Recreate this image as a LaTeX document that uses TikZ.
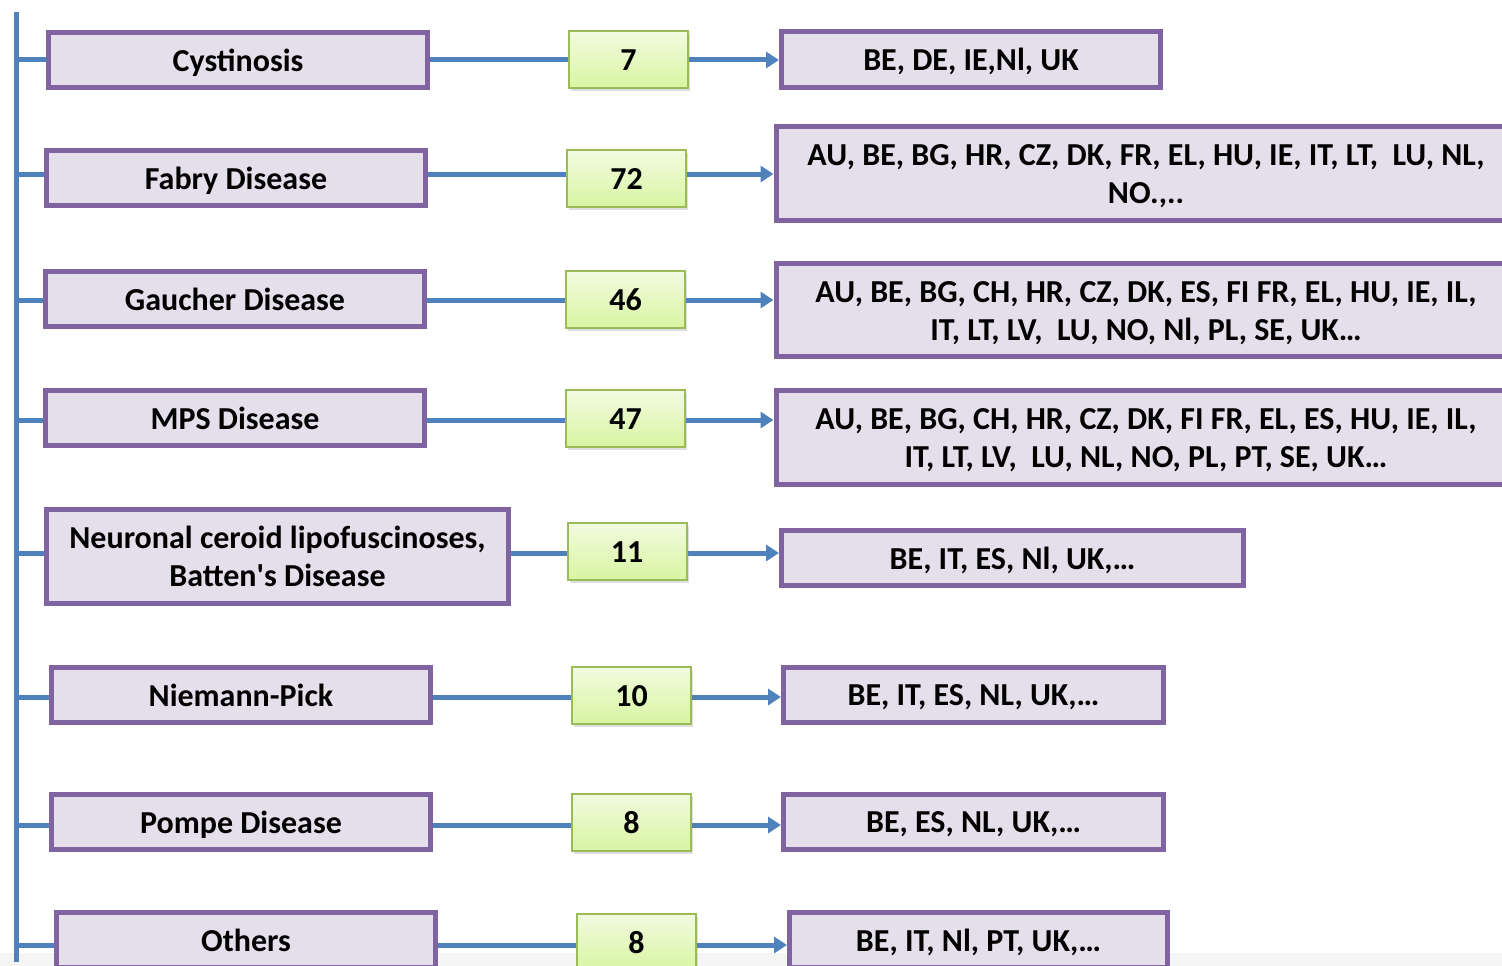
\documentclass[tikz,border=0pt]{standalone}
\usepackage{fontspec}
\setmainfont{Carlito}
\usetikzlibrary{arrows.meta,shadows}
\definecolor{spineblue}{HTML}{4F81BD}
\definecolor{boxline}{HTML}{8064A2}
\definecolor{boxfill}{HTML}{E5DFEC}
\definecolor{numline}{HTML}{9BBB59}
\definecolor{numtop}{HTML}{F2FBE0}
\definecolor{numbot}{HTML}{D8F5A2}
\tikzset{
  disease/.style={draw=boxline, fill=boxfill, line width=5pt, rectangle,
    minimum width=379pt, minimum height=55pt, align=center, inner sep=0pt,
    font=\fontsize{32}{38}\selectfont\bfseries, text height=26pt, text depth=4pt},
  tworow/.style={minimum height=94pt, text height=64pt, text depth=4pt},
  countbox/.style={draw=numline, line width=2pt, top color=numtop, bottom color=numbot,
    minimum width=119pt, minimum height=57pt, inner sep=0pt,
    font=\fontsize{32}{38}\selectfont\bfseries, text height=26pt, text depth=4pt,
    drop shadow={opacity=0.25, shadow xshift=2pt, shadow yshift=-3pt}},
  conn/.style={draw=spineblue, line width=5pt},
  connshade/.style={draw=black, opacity=0.12, line width=5pt},
  arr/.style={conn, -{Triangle[length=13pt,width=16pt]}},
}
\begin{document}
\begin{tikzpicture}[x=1pt,y=-1pt]
\useasboundingbox (0,0) rectangle (1502,966);
\clip (0,0) rectangle (1502,966);
\fill[black!4] (0,953) rectangle (1502,966);

% row baselines of the connectors
\coordinate (r1) at (0,60);
\coordinate (r2) at (0,174);
\coordinate (r3) at (0,300);
\coordinate (r4) at (0,420);
\coordinate (r5) at (0,553);
\coordinate (r6) at (0,697);
\coordinate (r7) at (0,825);
\coordinate (r8) at (0,945);
\coordinate (spinetop) at (16,12);
\coordinate (spinebot) at (16,962);

% soft shadow of the spine
\draw[connshade, xshift=3pt] (spinetop) -- (spinebot);

% disease boxes
\node[disease] (L1) at (238,60) {Cystinosis};
\node[disease] (L2) at (236,178) {Fabry Disease};
\node[disease] (L3) at (235,299) {Gaucher Disease};
\node[disease] (L4) at (235,418) {MPS Disease};
\node[disease, tworow, minimum width=462pt] (L5) at (277.5,556.5) {Neuronal ceroid lipofuscinoses,\\Batten\textquotesingle s Disease};
\node[disease] (L6) at (241,695) {Niemann-Pick};
\node[disease] (L7) at (241,822) {Pompe Disease};
\node[disease] (L8) at (246,940) {Others};

% counts
\node[countbox] (N1) at (628.5,59.5) {7};
\node[countbox] (N2) at (626.5,178.5) {72};
\node[countbox] (N3) at (625.5,299.5) {46};
\node[countbox] (N4) at (625.5,418.5) {47};
\node[countbox] (N5) at (627,551) {11};
\node[countbox] (N6) at (631.5,695) {10};
\node[countbox] (N7) at (631.5,822) {8};
\node[countbox] (N8) at (636.5,942) {8};

% country lists
\node[disease] (R1) at (971,59.5) {BE, DE, IE,Nl, UK};
\node[disease, tworow, minimum width=740pt] (R2) at (1146,173.5) {AU, BE, BG, HR, CZ, DK, FR, EL, HU, IE, IT, LT,\ \ LU, NL,\\NO.,..};
\node[disease, tworow, minimum width=740pt, minimum height=93pt] (R3) at (1146,310) {AU, BE, BG, CH, HR, CZ, DK, ES, FI FR, EL, HU, IE, IL,\\IT, LT, LV,\ \ LU, NO, Nl, PL, SE, UK…};
\node[disease, tworow, minimum width=740pt] (R4) at (1146,437.5) {AU, BE, BG, CH, HR, CZ, DK, FI FR, EL, ES, HU, IE, IL,\\IT, LT, LV,\ \ LU, NL, NO, PL, PT, SE, UK…};
\node[disease, minimum width=462pt] (R5) at (1012.5,558) {BE, IT, ES, Nl, UK,…};
\node[disease, minimum width=380pt] (R6) at (973.5,694.5) {BE, IT, ES, NL, UK,…};
\node[disease, minimum width=380pt] (R7) at (973.5,821.5) {BE, ES, NL, UK,…};
\node[disease, minimum width=378pt] (R8) at (978.5,940) {BE, IT, Nl, PT, UK,…};

% spine
\draw[conn] (spinetop) -- (spinebot);

% ticks, links and arrows of each row, each with a faint shadow below
\foreach \i in {1,...,8}{
  \begin{scope}[yshift=-4pt]
    \draw[connshade] (spinetop |- r\i) ++(2.5,0) -- (L\i.west |- r\i);
    \draw[connshade] (L\i.east |- r\i) -- (N\i.west |- r\i);
    \draw[connshade, shorten >=13pt] (N\i.east |- r\i) -- (R\i.west |- r\i);
  \end{scope}
  \draw[conn] (spinetop |- r\i) -- (L\i.west |- r\i);
  \draw[conn] (L\i.east |- r\i) -- (N\i.west |- r\i);
  \draw[arr] (N\i.east |- r\i) -- (R\i.west |- r\i);
}
\end{tikzpicture}
\end{document}
